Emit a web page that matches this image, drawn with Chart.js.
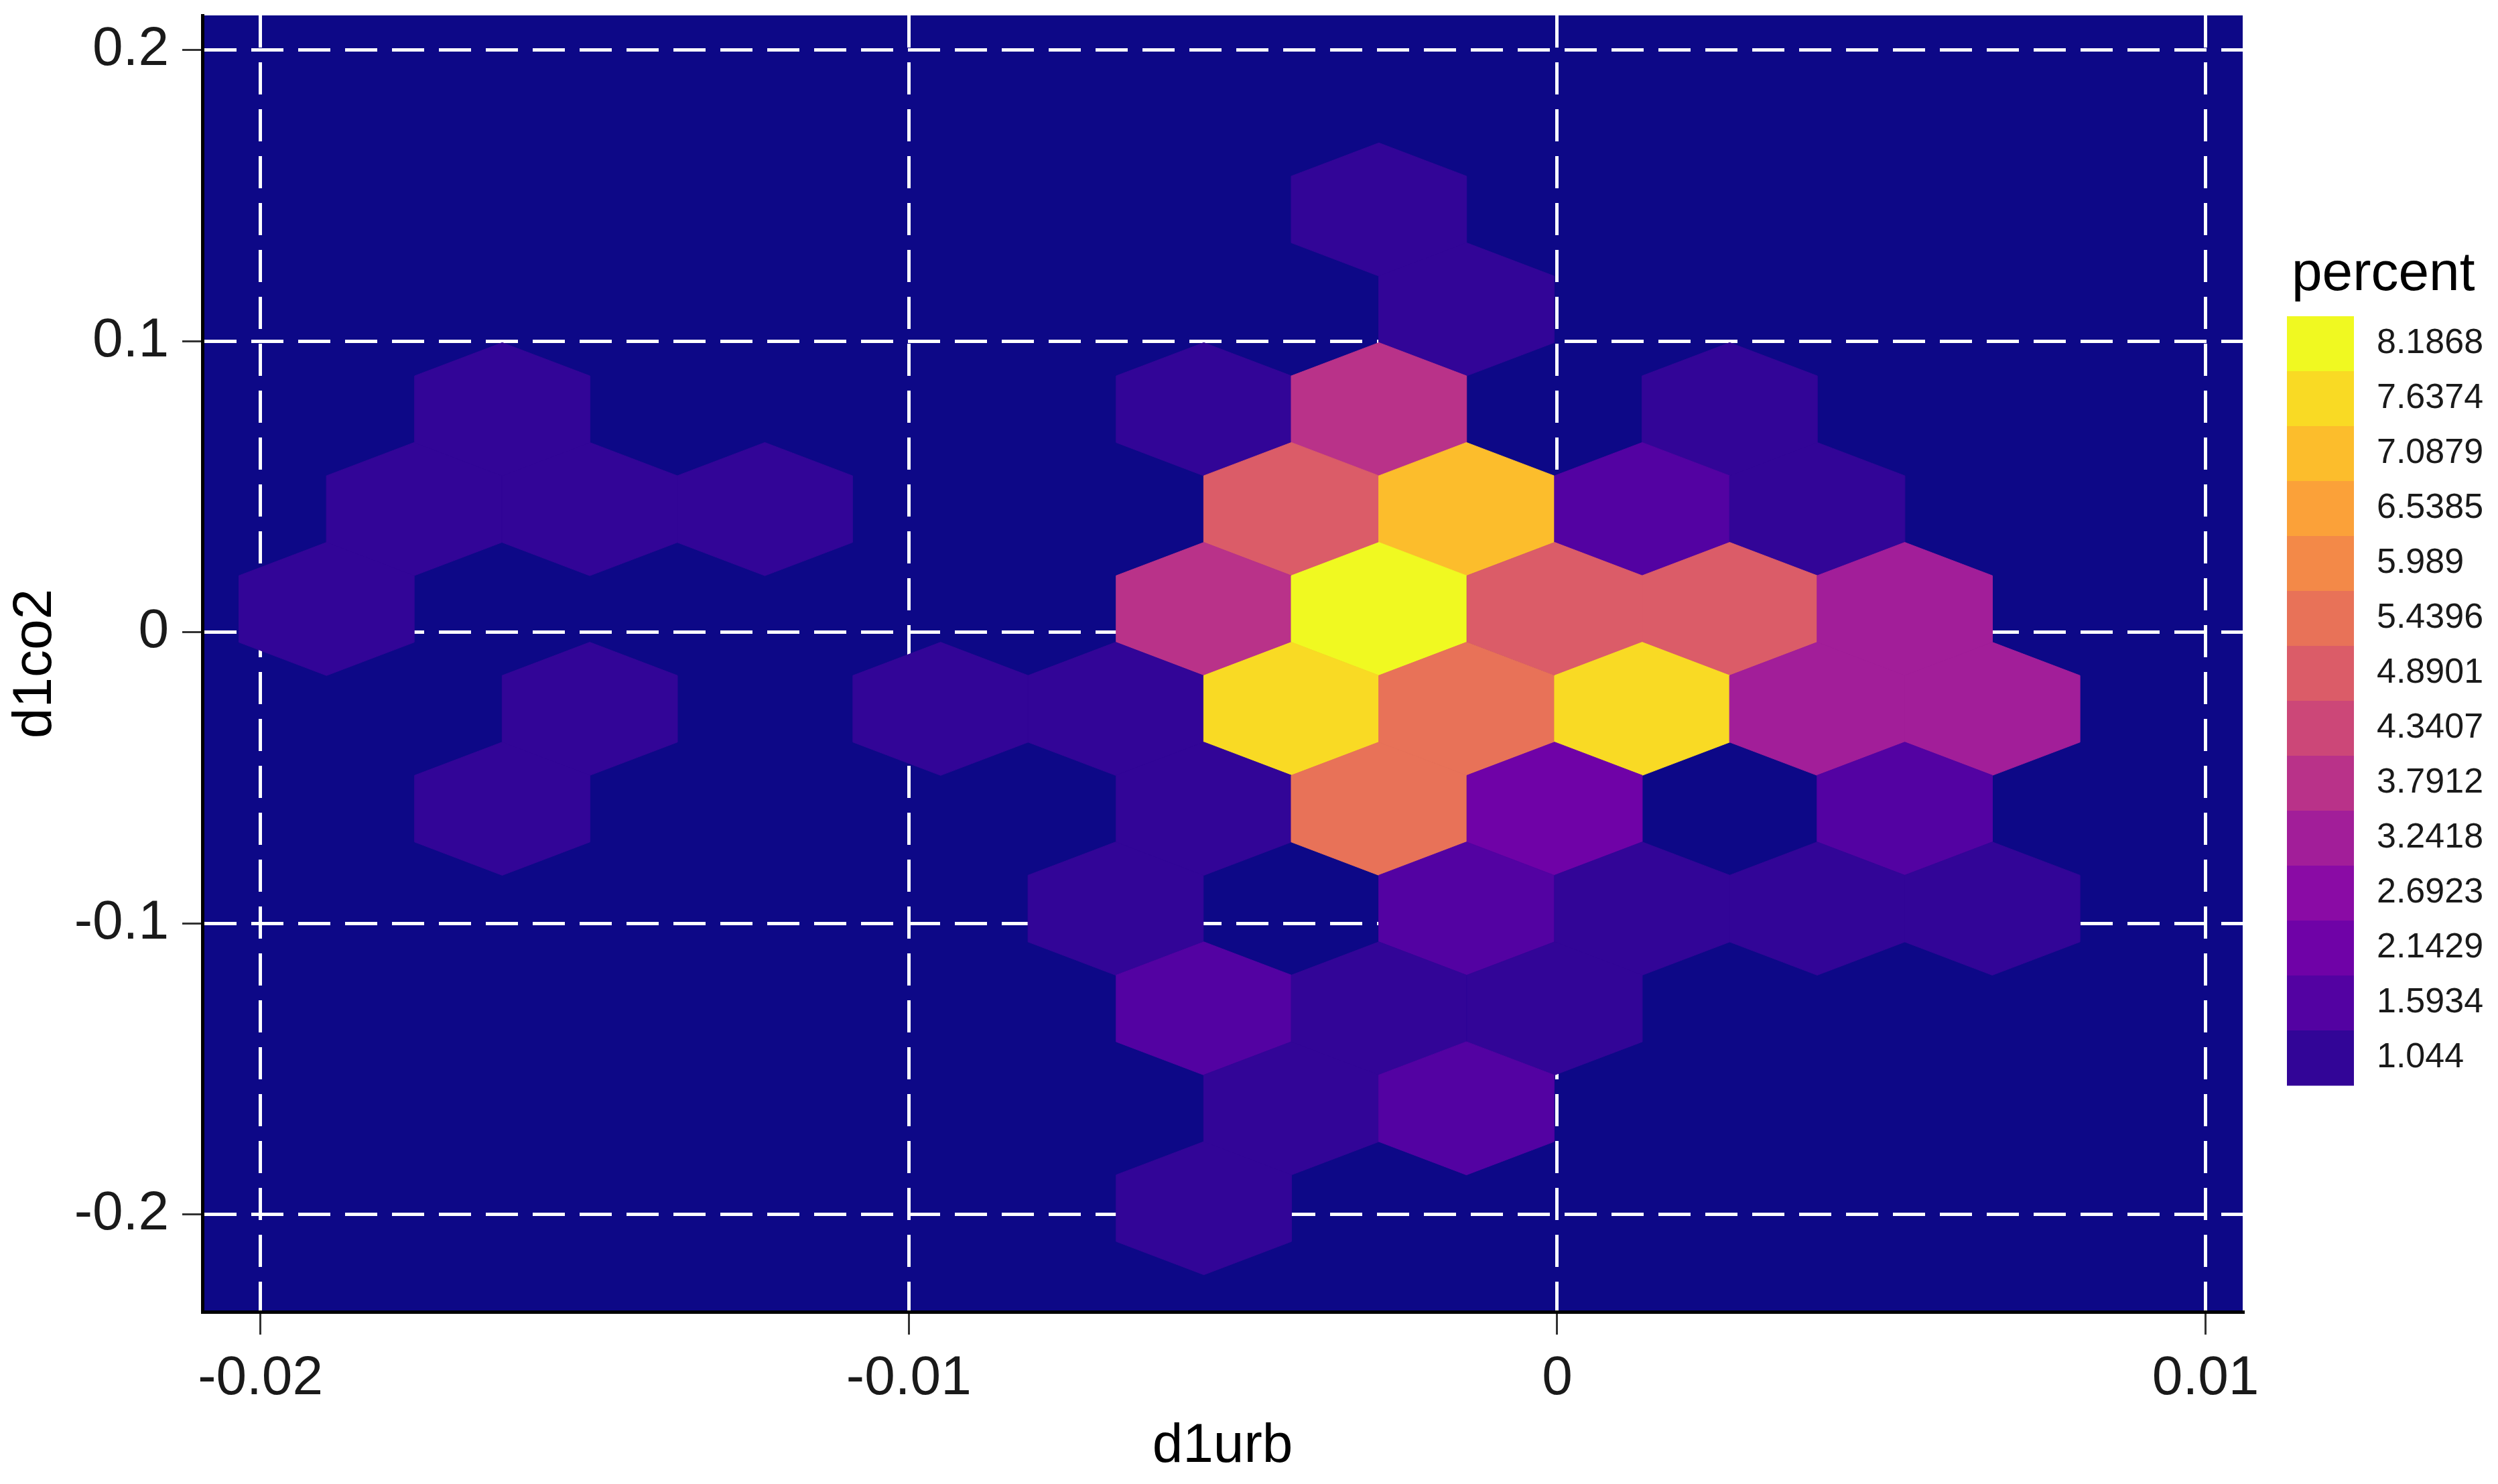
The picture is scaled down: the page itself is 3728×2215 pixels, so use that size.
<!DOCTYPE html>
<html lang="en">
<head>
<meta charset="UTF-8">
<title>d1urb vs d1co2</title>
<script src="https://cdn.jsdelivr.net/npm/chart.js@4.4.1/dist/chart.umd.min.js"></script>
<style>
  html, body { margin: 0; padding: 0; background: #ffffff; }
  #chart { display: block; }
</style>
</head>
<body>
<canvas id="chart" width="3728" height="2215"></canvas>
<script>
// hexbin centres (d1urb, d1co2) with the percent shown by their fill
const hexX = [
  -0.00275,
  -0.00140,
  -0.01627, -0.00545, -0.00275, 0.00266,
  -0.01763, -0.01492, -0.01222, -0.00410, -0.00140, 0.00131, 0.00401,
  -0.01898, -0.00545, -0.00275, -0.00004, 0.00266, 0.00536,
  -0.01492, -0.00951, -0.00681, -0.00410, -0.00140, 0.00131, 0.00401, 0.00671,
  -0.01627, -0.00545, -0.00275, -0.00004, 0.00536,
  -0.00681, -0.00140, 0.00131, 0.00401, 0.00671,
  -0.00545, -0.00275, -0.00004,
  -0.00410, -0.00140,
  -0.00545
];
const hexY = [
  0.1452,
  0.1109,
  0.0766, 0.0766, 0.0766, 0.0766,
  0.0423, 0.0423, 0.0423, 0.0423, 0.0423, 0.0423, 0.0423,
  0.0080, 0.0080, 0.0080, 0.0080, 0.0080, 0.0080,
  -0.0263, -0.0263, -0.0263, -0.0263, -0.0263, -0.0263, -0.0263, -0.0263,
  -0.0606, -0.0606, -0.0606, -0.0606, -0.0606,
  -0.0949, -0.0949, -0.0949, -0.0949, -0.0949,
  -0.1292, -0.1292, -0.1292,
  -0.1635, -0.1635,
  -0.1978
];
const hexPercent = [
  1.044,
  1.044,
  1.044, 1.044, 3.7912, 1.044,
  1.044, 1.044, 1.044, 4.8901, 7.0879, 1.5934, 1.044,
  1.044, 3.7912, 8.1868, 4.8901, 4.8901, 3.2418,
  1.044, 1.044, 1.044, 7.6374, 5.4396, 7.6374, 3.2418, 3.2418,
  1.044, 1.044, 5.4396, 2.1429, 1.5934,
  1.044, 1.5934, 1.044, 1.044, 1.044,
  1.5934, 1.044, 1.044,
  1.044, 1.5934,
  1.044
];

// legend breaks, top to bottom
const legendLevels = [8.1868, 7.6374, 7.0879, 6.5385, 5.989, 5.4396, 4.8901,
                      4.3407, 3.7912, 3.2418, 2.6923, 2.1429, 1.5934, 1.044];
const legendColors = ['#F0F921', '#F9DA24', '#FCBD2C', '#FBA139', '#F38948', '#E87258', '#DB5C68',
                      '#CC4778', '#B93289', '#A21E99', '#8A0BA5', '#6F02A7', '#5302A2', '#320597'];

const xTickValues = [-0.02, -0.01, 0, 0.01];
const yTickValues = [-0.2, -0.1, 0, 0.1, 0.2];

// bin size in data units
const binWidth = 0.0027045;
const rowStep = 0.0343;

const panelColor = '#0D0887';
const fontFamily = "'Liberation Sans', Arial, Helvetica, sans-serif";

function colorFor(v) {
  let best = 0;
  legendLevels.forEach((l, i) => {
    if (Math.abs(l - v) < Math.abs(legendLevels[best] - v)) best = i;
  });
  return legendColors[best];
}

function fmt(v) {
  if (Math.abs(v) < 1e-12) return '0';
  return String(+v.toFixed(4));
}

const panelBg = {
  id: 'panelBg',
  beforeDraw(chart) {
    const {ctx, chartArea: a} = chart;
    ctx.save();
    ctx.fillStyle = '#ffffff';
    ctx.fillRect(0, 0, chart.width, chart.height);
    ctx.fillStyle = panelColor;
    ctx.fillRect(a.left, a.top, a.right - a.left, a.bottom - a.top);
    ctx.restore();
  }
};

const hexbins = {
  id: 'hexbins',
  beforeDatasetsDraw(chart) {
    const {ctx, chartArea: a, scales: {x, y}} = chart;
    const hw = binWidth / 2;
    const r = rowStep / 1.5;
    const corners = [[0, r], [hw, r / 2], [hw, -r / 2], [0, -r], [-hw, -r / 2], [-hw, r / 2]];
    ctx.save();
    ctx.beginPath();
    ctx.rect(a.left, a.top, a.right - a.left, a.bottom - a.top);
    ctx.clip();
    chart.data.datasets[0].data.forEach(p => {
      ctx.beginPath();
      corners.forEach(([dx, dy], i) => {
        const px = x.getPixelForValue(p.x + dx);
        const py = y.getPixelForValue(p.y + dy);
        if (i === 0) ctx.moveTo(px, py); else ctx.lineTo(px, py);
      });
      ctx.closePath();
      ctx.fillStyle = colorFor(p.v);
      ctx.fill();
      ctx.strokeStyle = ctx.fillStyle;
      ctx.lineWidth = 1;
      ctx.stroke();
    });
    ctx.restore();
  }
};

// colour bar legend on the right
const colorBar = {
  id: 'colorBar',
  afterDraw(chart) {
    const ctx = chart.ctx;
    const left = 3413, top = 472, w = 100, h = 82;
    ctx.save();
    ctx.fillStyle = '#000000';
    ctx.font = '82px ' + fontFamily;
    ctx.textAlign = 'left';
    ctx.textBaseline = 'alphabetic';
    ctx.fillText('percent', 3420, 433);
    ctx.font = '52px ' + fontFamily;
    ctx.textBaseline = 'middle';
    legendLevels.forEach((l, i) => {
      ctx.fillStyle = legendColors[i];
      ctx.fillRect(left, top + i * h, w, h + 0.5);
      ctx.fillStyle = '#1a1a1a';
      ctx.fillText(String(l), 3547, top + i * h + h / 2);
    });
    ctx.restore();
  }
};

Chart.defaults.font.family = fontFamily;
Chart.defaults.color = '#1a1a1a';

const points = hexX.map((x, i) => ({x: x, y: hexY[i], v: hexPercent[i]}));

new Chart(document.getElementById('chart'), {
  type: 'scatter',
  data: {
    datasets: [{
      label: 'percent',
      data: points,
      pointRadius: 0,
      pointHoverRadius: 0
    }]
  },
  options: {
    responsive: false,
    animation: false,
    devicePixelRatio: 1,
    layout: { padding: { top: 23, right: 381, left: 0, bottom: 0 } },
    plugins: {
      legend: { display: false },
      tooltip: { enabled: false }
    },
    scales: {
      x: {
        type: 'linear',
        min: -0.020895,
        max: 0.010572,
        afterFit: s => { s.height = 257; s.paddingLeft = 0; s.paddingRight = 0; },
        afterBuildTicks: s => { s.ticks = xTickValues.map(v => ({value: v})); },
        ticks: {
          font: { size: 82 },
          padding: 17,
          maxRotation: 0,
          autoSkip: false,
          color: '#1a1a1a',
          callback: v => fmt(v)
        },
        grid: { color: '#ffffff', lineWidth: 5, tickLength: 34, tickColor: '#333333', tickWidth: 3 },
        border: { display: true, color: '#000000', width: 5, dash: [48, 22] },
        title: { display: true, text: 'd1urb', color: '#000000', font: { size: 82 }, padding: { top: 0, bottom: 6 } }
      },
      y: {
        type: 'linear',
        min: -0.23339,
        max: 0.21185,
        afterFit: s => { s.width = 302; s.paddingTop = 0; s.paddingBottom = 0; },
        afterBuildTicks: s => { s.ticks = yTickValues.map(v => ({value: v})); },
        ticks: {
          font: { size: 82 },
          padding: 20,
          autoSkip: false,
          color: '#1a1a1a',
          callback: v => fmt(v)
        },
        grid: { color: '#ffffff', lineWidth: 5, tickLength: 30, tickColor: '#333333', tickWidth: 3 },
        border: { display: true, color: '#000000', width: 5, dash: [48, 22] },
        title: { display: true, text: 'd1co2', color: '#000000', font: { size: 82 }, padding: { top: 4, bottom: 0 } }
      }
    }
  },
  plugins: [panelBg, hexbins, colorBar]
});
</script>
</body>
</html>
